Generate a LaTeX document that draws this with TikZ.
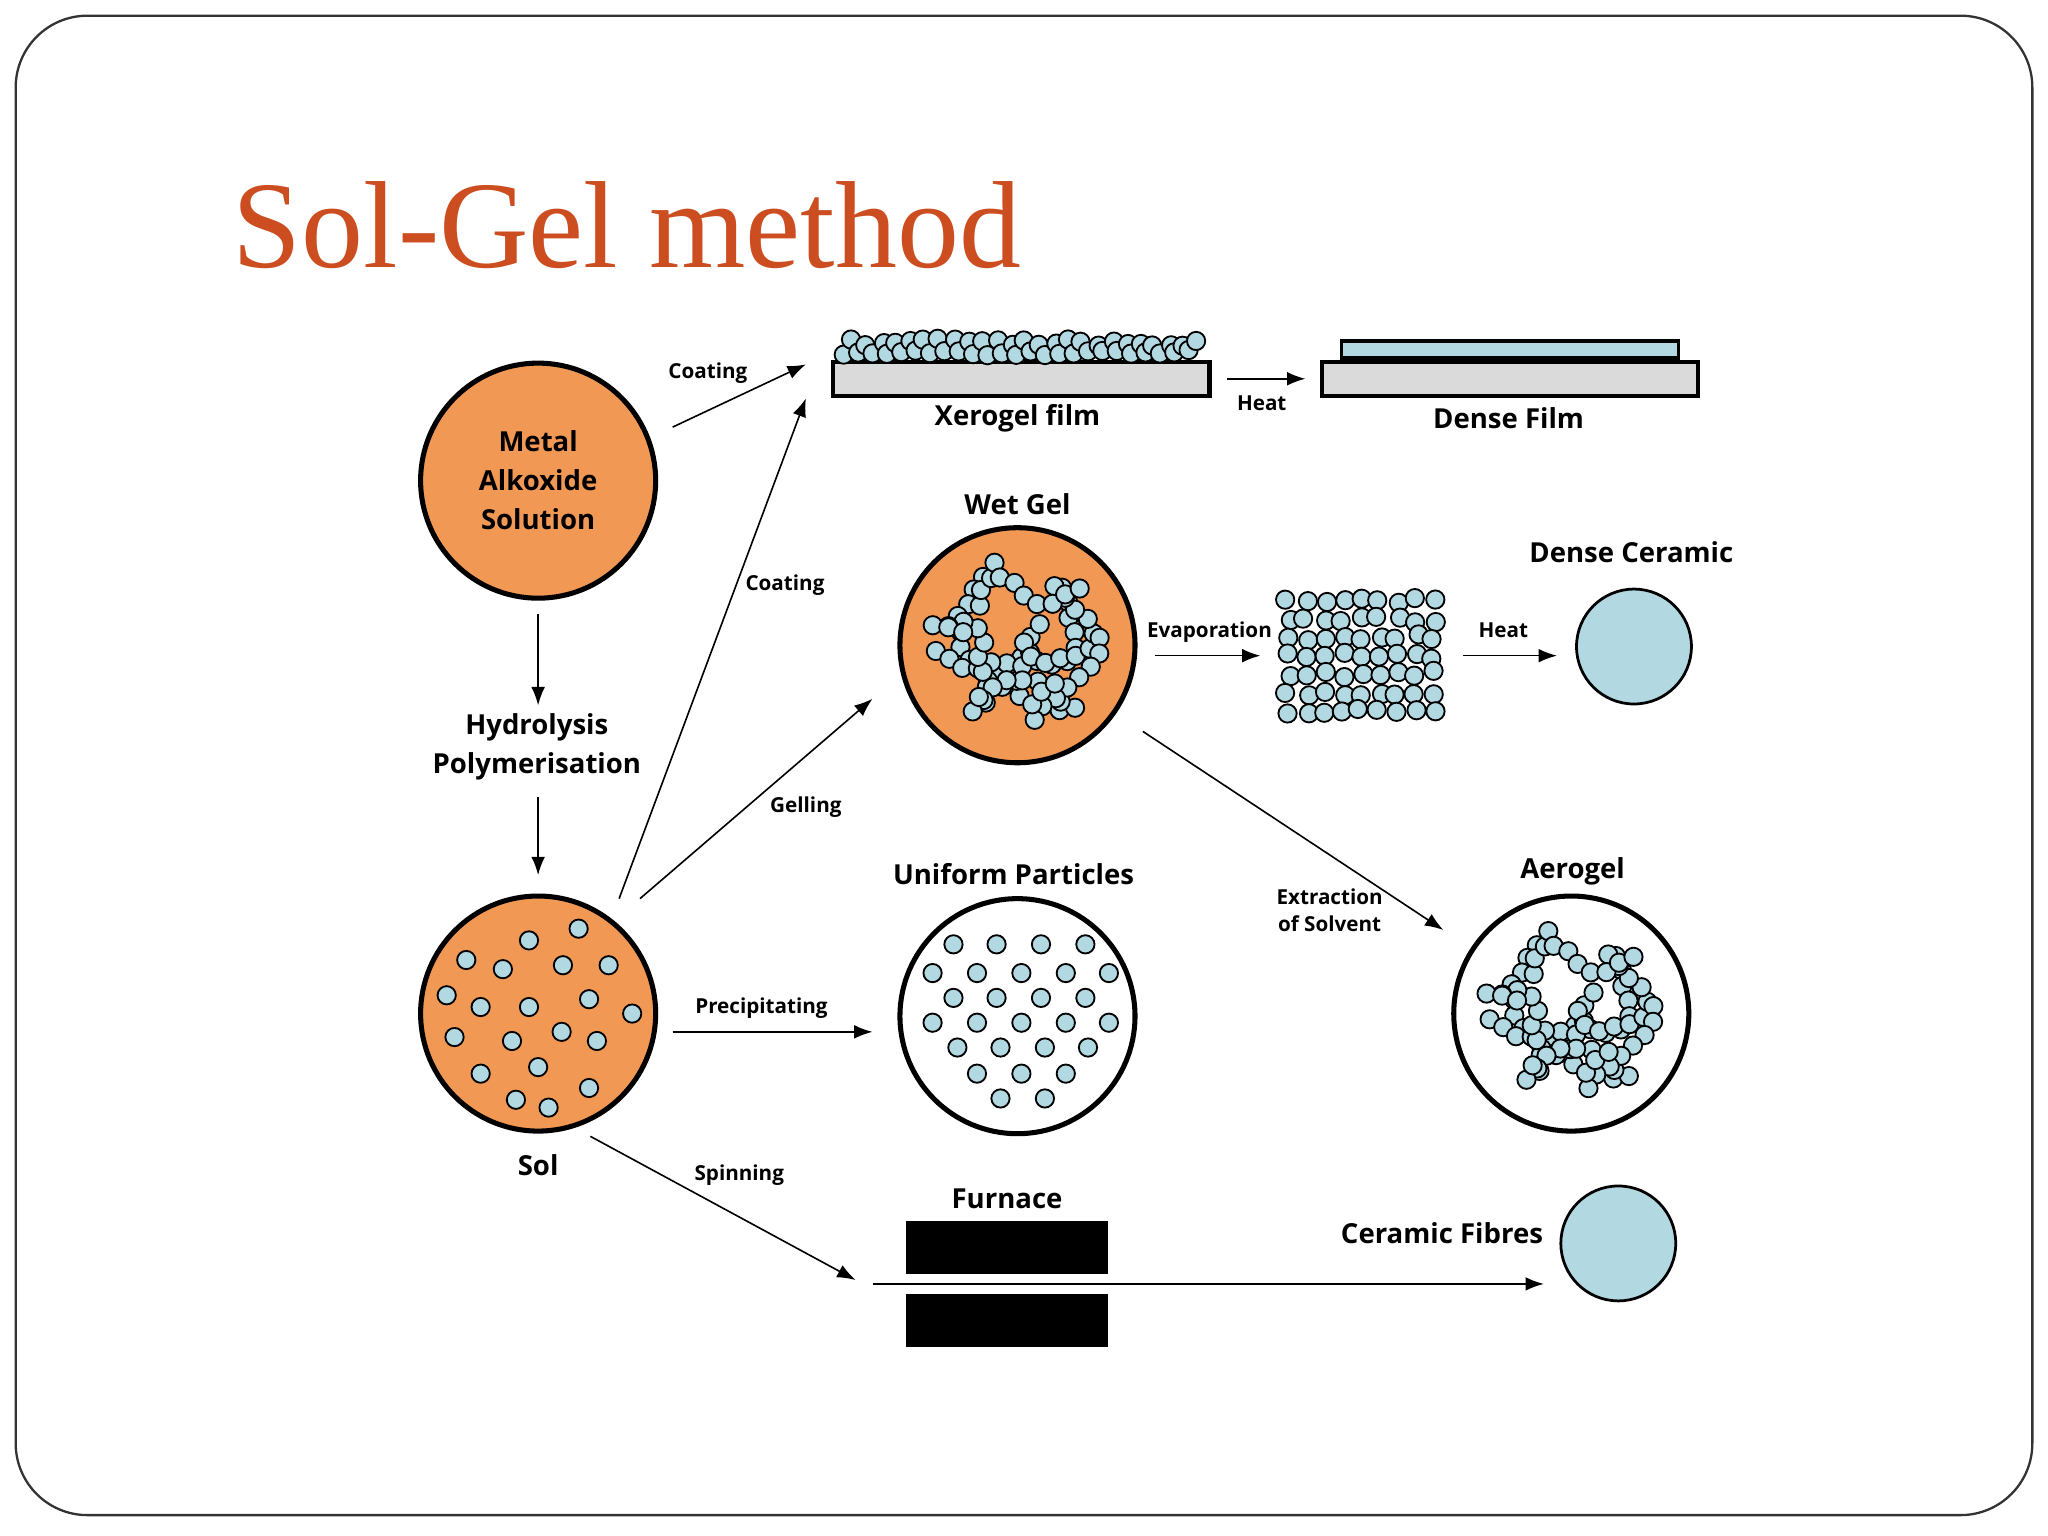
\documentclass[tikz,border=0pt]{standalone}
\usepackage{fontspec}
\setmainfont{Open Sans}
\newfontfamily\titlefont{Liberation Serif}
\usetikzlibrary{positioning,arrows.meta}
\definecolor{solorange}{RGB}{241,152,84}
\definecolor{beadblue}{RGB}{178,216,226}
\definecolor{titlered}{RGB}{204,78,32}
\definecolor{filmgray}{RGB}{218,218,218}

\tikzset{
  blob/.style={circle, draw, line width=2.2pt, minimum size=3.6cm, inner sep=0pt},
  dot/.style={draw, fill=beadblue, line width=0.8pt},
  lbl/.style={font=\bfseries\fontsize{12}{17}\selectfont, align=center},
  tag/.style={font=\bfseries\fontsize{9}{12}\selectfont, align=center},
  flow/.style={-{Latex[length=8pt,width=6pt]}, line width=0.7pt},
}
% random chain of beads inside a circle
\newcommand\beadchains[3]{% center x, center y, list of starts/directions
  \foreach \sx/\sy/\sa in {#3}{
    \xdef\bx{\sx}\xdef\by{\sy}\xdef\ba{\sa}
    \foreach \k in {1,...,11}{
      \pgfmathsetmacro\ang{\ba+(rnd-0.5)*110}
      \pgfmathsetmacro\nx{\bx+12*cos(\ang)}
      \pgfmathsetmacro\ny{\by+12*sin(\ang)}
      \pgfmathsetmacro\dd{veclen(\nx-#1,\ny-#2)}
      \ifdim\dd pt>70pt
        \pgfmathsetmacro\ang{\ang+180}
        \pgfmathsetmacro\nx{\bx+12*cos(\ang)}
        \pgfmathsetmacro\ny{\by+12*sin(\ang)}
      \fi
      \draw[dot] (\nx,\ny) circle[radius=0.14cm];
      \xdef\bx{\nx}\xdef\by{\ny}\xdef\ba{\ang}
    }
  }
}

\begin{document}
\begin{tikzpicture}[x=0.02cm, y=-0.02cm]
  \useasboundingbox (0,0) rectangle (1568,1176);
  \draw[line width=1pt, rounded corners=1.1cm, black!80] (12,12) rectangle (1556,1160);
  \node[anchor=base west, text=titlered, font=\titlefont\fontsize{54}{56}\selectfont] (title) at (172,205) {Sol-Gel method};

  % sources
  \node[blob, fill=solorange, lbl] (metal) at (412,368) {Metal\\Alkoxide\\Solution};
  \node[lbl] (hydro) at (411,572) {Hydrolysis\\Polymerisation};
  \node[blob, fill=solorange] (sol) at (412,776) {};
  \node[lbl] (sollbl) at (412,892) {Sol};
  \foreach \x/\y in {405/720,443/711,357/735,385/742,431/739,466/739,342/762,368/771,405/771,451/765,484/776,348/794,392/797,430/790,457/797,412/817,368/822,451/833,395/842,420/848}
    \draw[dot] (\x,\y) circle[radius=0.14cm];
  \draw[flow] (metal.south) ++(0,10) coordinate (m1) (m1) -- (412,540) coordinate (m2);
  \draw[flow] (412,610) coordinate (h1) -- (412,670) coordinate (h2);

  % films
  \node[draw, line width=1.8pt, fill=filmgray, minimum width=5.76cm, minimum height=0.52cm, inner sep=0pt] (xsub) at (782,290) {};
  \begin{scope}
    \pgfmathsetseed{7}
    \foreach \x in {646,657,...,918}{
      \pgfmathsetmacro\yy{268+rnd*4}
      \draw[dot] (\x,\yy) circle[radius=0.14cm];
      \pgfmathsetmacro\xx{\x+5+rnd*4}
      \pgfmathsetmacro\yy{259+rnd*6}
      \draw[dot] (\xx,\yy) circle[radius=0.14cm];
    }
  \end{scope}
  \node[lbl] (xlbl) at (779,320) {Xerogel film};
  \node[draw, line width=1.8pt, fill=filmgray, minimum width=5.76cm, minimum height=0.52cm, inner sep=0pt] (dsub) at (1156,290) {};
  \node[draw, line width=1.5pt, fill=beadblue, minimum width=5.16cm, minimum height=0.26cm, inner sep=0pt, anchor=south] (dlayer) at (dsub.north) {};
  \node[lbl] (dlbl) at (1155,320) {Dense Film};
  \draw[flow] (xsub.east) ++(12,0) coordinate (x1) (x1) -- ([xshift=-0.22cm]dsub.west) coordinate (x2);
  \node[tag] (heat1) at (966,309) {Heat};

  % wet gel row
  \node[lbl] (wetlbl) at (779,386) {Wet Gel};
  \node[blob, fill=solorange] (wet) at (779,494) {};
  \begin{scope}
    \pgfmathsetseed{11}
    \beadchains{779}{494}{750/430/60,812/438/120,705/495/0,785/480/90,745/545/0,800/548/-40,848/478/150,740/470/-30}
  \end{scope}
  \node[tag, anchor=base] (evap) at (926,488) {Evaporation};
  \begin{scope}
    \pgfmathsetseed{3}
    \foreach \i in {0,...,8}
      \foreach \j in {0,...,6}{
        \pgfmathsetmacro\xx{986+\i*14+rnd*5-2.5}
        \pgfmathsetmacro\yy{460+\j*14+rnd*5-2.5}
        \draw[dot] (\xx,\yy) circle[radius=0.14cm];
      }
  \end{scope}
  \draw[flow] (884,502) coordinate (e1) -- (965,502) coordinate (e2);
  \node[tag, anchor=base] (heat2) at (1151,488) {Heat};
  \draw[flow] (1120,502) coordinate (c1) -- (1192,502) coordinate (c2);
  \node[lbl] (dclbl) at (1249,423) {Dense Ceramic};
  \node[circle, draw, line width=1.2pt, fill=beadblue, minimum size=1.76cm] (dense) at (1251,495) {};

  % particles and aerogel
  \node[lbl] (unilbl) at (776,669) {Uniform Particles};
  \node[blob, fill=white] (uni) at (779,778) {};
  \foreach \y/\xs in {723/{730,763,797,831},745/{714,748,782,816,849},764/{730,763,797,831},783/{714,748,782,816,849},802/{733,766,800,833},822/{748,782,816},841/{766,800}}
    \foreach \x in \xs
      \draw[dot] (\x,\y) circle[radius=0.14cm];
  \node[lbl] (aerolbl) at (1204,667) {Aerogel};
  \node[blob, fill=white] (aero) at (1203,776) {};
  \begin{scope}
    \pgfmathsetseed{11}
    \beadchains{1203}{776}{1174/712/60,1236/720/120,1129/777/0,1209/762/90,1169/827/0,1224/830/-40,1272/760/150,1164/752/-30}
  \end{scope}
  \node[tag] (extr) at (1018,697) {Extraction\\of Solvent};

  % furnace
  \node[lbl] (furnlbl) at (771,918) {Furnace};
  \node[fill=black, minimum width=3.1cm, minimum height=0.82cm, inner sep=0pt] (furn1) at (771,955) {};
  \node[fill=black, minimum width=3.1cm, minimum height=0.82cm, inner sep=0pt] (furn2) at (771,1011) {};
  \node[lbl] (cflbl) at (1104,944) {Ceramic Fibres};
  \node[circle, draw, line width=1.2pt, fill=beadblue, minimum size=1.76cm] (fibre) at (1239,952) {};
  \draw[flow] (668,983) coordinate (f1) -- (1182,983) coordinate (f2);

  % process arrows
  \coordinate (s1) at (515,327); \coordinate (t1) at (617,279);
  \coordinate (s2) at (474,688); \coordinate (t2) at (617,305);
  \coordinate (s3) at (490,688); \coordinate (t3) at (668,535);
  \coordinate (s4) at (515,790); \coordinate (t4) at (668,790);
  \coordinate (s5) at (452,870); \coordinate (t5) at (655,980);
  \coordinate (s6) at (875,560); \coordinate (t6) at (1105,712);
  \draw[flow] (s1) -- (t1);
  \draw[flow] (s2) -- (t2);
  \draw[flow] (s3) -- (t3);
  \draw[flow] (s4) -- (t4);
  \draw[flow] (s5) -- (t5);
  \draw[flow] (s6) -- (t6);
  \node[tag] (coat1) at (542,286) {Coating};
  \node[tag] (coat2) at (601,448) {Coating};
  \node[tag] (gell) at (617,618) {Gelling};
  \node[tag] (prec) at (583,772) {Precipitating};
  \node[tag] (spin) at (566,900) {Spinning};
\end{tikzpicture}
\end{document}
